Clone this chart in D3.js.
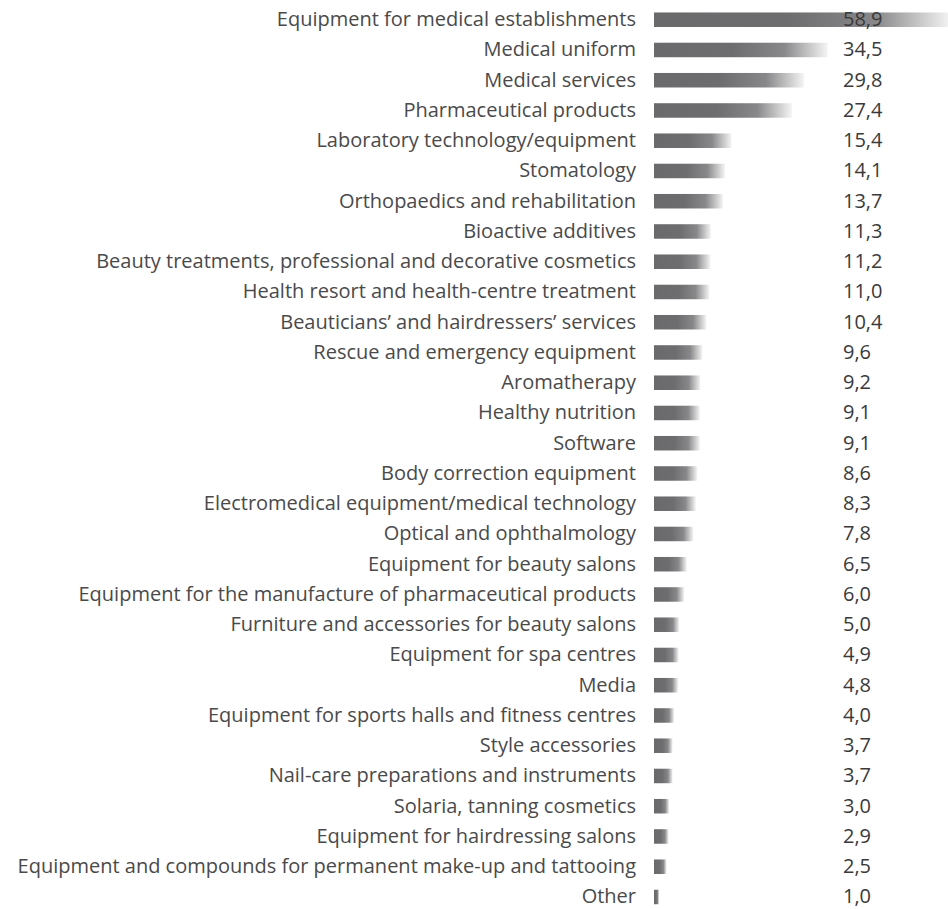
<!DOCTYPE html>
<html>
<head>
<meta charset="utf-8">
<script src="https://cdn.jsdelivr.net/npm/d3@7"></script>
<style>
  html, body { margin: 0; padding: 0; background: #ffffff; }
  svg { display: block; }
  text { font-family: "Open Sans", "Noto Sans", sans-serif; }
</style>
</head>
<body>
<svg id="chart" width="948" height="909"></svg>
<script>
const categories = [
  "Equipment for medical establishments",
  "Medical uniform",
  "Medical services",
  "Pharmaceutical products",
  "Laboratory technology/equipment",
  "Stomatology",
  "Orthopaedics and rehabilitation",
  "Bioactive additives",
  "Beauty treatments, professional and decorative cosmetics",
  "Health resort and health-centre treatment",
  "Beauticians’ and hairdressers’ services",
  "Rescue and emergency equipment",
  "Aromatherapy",
  "Healthy nutrition",
  "Software",
  "Body correction equipment",
  "Electromedical equipment/medical technology",
  "Optical and ophthalmology",
  "Equipment for beauty salons",
  "Equipment for the manufacture of pharmaceutical products",
  "Furniture and accessories for beauty salons",
  "Equipment for spa centres",
  "Media",
  "Equipment for sports halls and fitness centres",
  "Style accessories",
  "Nail-care preparations and instruments",
  "Solaria, tanning cosmetics",
  "Equipment for hairdressing salons",
  "Equipment and compounds for permanent make-up and tattooing",
  "Other"
];
const values = [58.9, 34.5, 29.8, 27.4, 15.4, 14.1, 13.7, 11.3, 11.2, 11.0, 10.4, 9.6, 9.2, 9.1, 9.1, 8.6, 8.3, 7.8, 6.5, 6.0, 5.0, 4.9, 4.8, 4.0, 3.7, 3.7, 3.0, 2.9, 2.5, 1.0];

const data = categories.map((c, i) => ({ cat: c, val: values[i] }));
const svg = d3.select("#chart");

const barX0 = 654, labelX = 636, valueX = 843;
const step = 30.25;
const x = d3.scaleLinear().domain([0, 10]).range([barX0, barX0 + 50.3]);
const y = d3.scaleBand().domain(categories).range([4.6, 4.6 + step * categories.length]).paddingInner(0.52).paddingOuter(0.26);

const defs = svg.append("defs");
const grad = defs.append("linearGradient").attr("id", "barGrad")
  .attr("x1", "0").attr("x2", "1").attr("y1", "0").attr("y2", "0");
[["0%", "#6a6a6c"], ["45%", "#6d6d6f"], ["75%", "#88888a"], ["100%", "#f4f4f4"]].forEach(([o, c]) =>
  grad.append("stop").attr("offset", o).attr("stop-color", c));

const rows = svg.append("g").selectAll("g").data(data).join("g");

rows.append("rect")
  .attr("x", x(0))
  .attr("y", d => y(d.cat))
  .attr("width", d => x(d.val) - x(0))
  .attr("height", y.bandwidth())
  .attr("fill", "url(#barGrad)");

rows.append("text")
  .attr("x", labelX)
  .attr("y", d => y(d.cat) + y.bandwidth() / 2)
  .attr("dy", "0.32em")
  .attr("text-anchor", "end")
  .attr("font-size", 20)
  .attr("fill", "#4a4a4a")
  .text(d => d.cat);

rows.append("text")
  .attr("x", valueX)
  .attr("y", d => y(d.cat) + y.bandwidth() / 2)
  .attr("dy", "0.32em")
  .attr("font-size", 20)
  .attr("fill", "#3a3a3a")
  .text(d => d3.format(".1f")(d.val).replace(".", ","));
</script>
</body>
</html>
